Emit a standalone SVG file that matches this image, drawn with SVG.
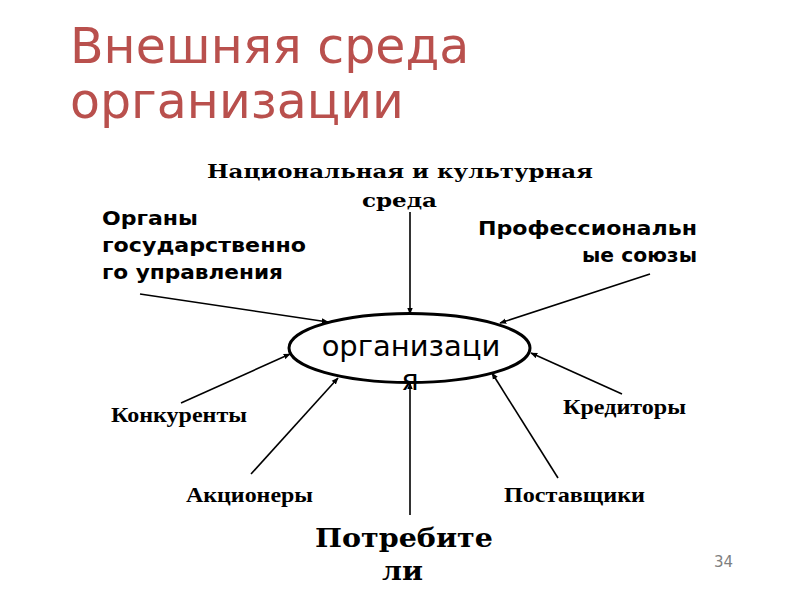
<svg xmlns="http://www.w3.org/2000/svg" width="800" height="600" viewBox="0 0 800 600">
<defs>
<style>
.title{font-family:"DejaVu Sans",sans-serif;font-size:49px;fill:#b9504d}
.sansb{font-family:"DejaVu Sans",sans-serif;font-weight:bold;font-size:19px;fill:#000}
.serifb{font-family:"DejaVu Serif",serif;font-weight:bold;font-size:18px;fill:#000}
.times{font-family:"Liberation Serif",serif;font-weight:bold;font-size:21px;fill:#000}
.big{font-family:"DejaVu Serif",serif;font-weight:bold;font-size:26px;fill:#000}
.org{font-family:"DejaVu Sans",sans-serif;font-size:29px;fill:#000}
.num{font-family:"DejaVu Sans",sans-serif;font-size:15px;fill:#7f7f7f}
.conn line{stroke:#000;stroke-width:1.6;marker-end:url(#arr)}
</style>
<marker id="arr" viewBox="0 0 10 10" refX="9" refY="5" markerWidth="7" markerHeight="7" orient="auto" markerUnits="userSpaceOnUse">
<path d="M0,1 L10,5 L0,9 z" fill="#000"/>
</marker>
</defs>
<rect width="800" height="600" fill="#fff"/>
<g id="title">
<text class="title" x="70" y="63">Внешняя среда</text>
<text class="title" x="70" y="118">организации</text>
</g>
<g id="org">
<ellipse cx="409.5" cy="348" rx="120.5" ry="34.5" fill="#fff" stroke="#000" stroke-width="3"/>
<text class="org" x="411" y="356" text-anchor="middle">организаци</text>
<text class="org" x="410" y="390" text-anchor="middle">я</text>
</g>
<g id="nat">
<text class="serifb" x="207" y="178" textLength="386" lengthAdjust="spacingAndGlyphs">Национальная и культурная</text>
<text class="serifb" x="362" y="207" textLength="75" lengthAdjust="spacingAndGlyphs">среда</text>
</g>
<g id="gov">
<text class="sansb" x="102" y="225" textLength="96" lengthAdjust="spacingAndGlyphs">Органы</text>
<text class="sansb" x="102" y="252" textLength="204" lengthAdjust="spacingAndGlyphs">государственно</text>
<text class="sansb" x="102" y="279" textLength="181" lengthAdjust="spacingAndGlyphs">го управления</text>
</g>
<g id="prof">
<text class="sansb" x="478" y="235" textLength="219" lengthAdjust="spacingAndGlyphs">Профессиональн</text>
<text class="sansb" x="582" y="262" textLength="115" lengthAdjust="spacingAndGlyphs">ые союзы</text>
</g>
<g id="konk"><text class="times" x="111" y="422" textLength="136" lengthAdjust="spacingAndGlyphs">Конкуренты</text></g>
<g id="akc"><text class="times" x="186" y="502" textLength="127" lengthAdjust="spacingAndGlyphs">Акционеры</text></g>
<g id="kred"><text class="times" x="563" y="414" textLength="123" lengthAdjust="spacingAndGlyphs">Кредиторы</text></g>
<g id="post"><text class="times" x="504" y="502" textLength="141" lengthAdjust="spacingAndGlyphs">Поставщики</text></g>
<g id="potr">
<text class="big" x="315" y="547" textLength="178" lengthAdjust="spacingAndGlyphs">Потребите</text>
<text class="big" x="382" y="580" textLength="41" lengthAdjust="spacingAndGlyphs">ли</text>
</g>
<g id="page"><text class="num" x="733" y="567" text-anchor="end">34</text></g>
<g id="connectors" class="conn">
<line x1="410" y1="212" x2="410" y2="314"/>
<line x1="140" y1="294" x2="328" y2="322"/>
<line x1="650" y1="274" x2="500" y2="323"/>
<line x1="181" y1="403" x2="290" y2="354"/>
<line x1="251" y1="474" x2="338" y2="378"/>
<line x1="622" y1="394" x2="531" y2="353"/>
<line x1="558" y1="478" x2="492" y2="373"/>
<line x1="410" y1="515" x2="410" y2="383"/>
</g>
</svg>
